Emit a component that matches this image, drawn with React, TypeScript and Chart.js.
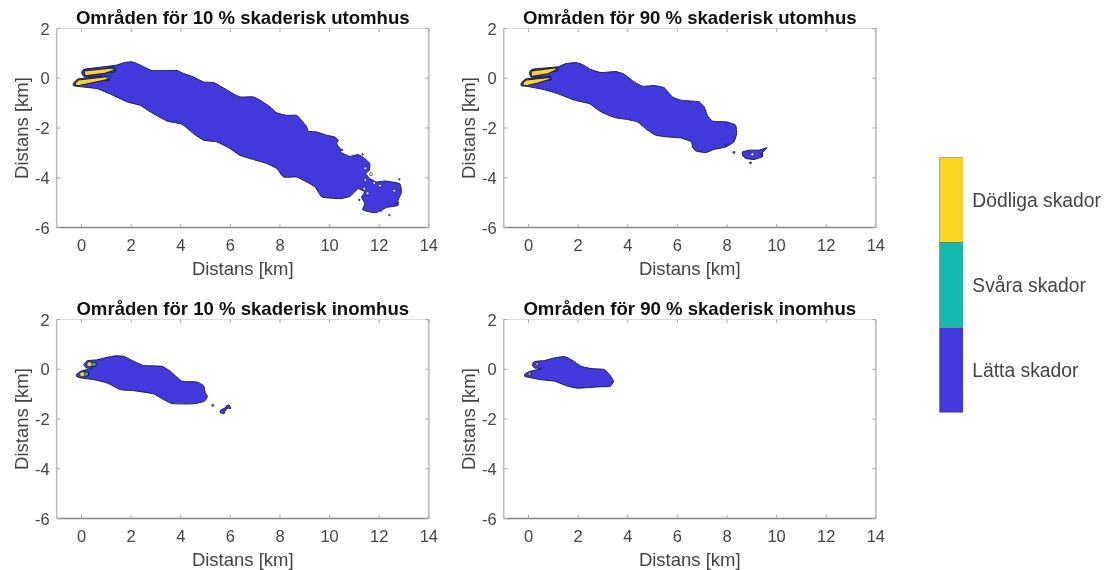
import React, { useEffect, useRef } from "react";
import { Chart, registerables } from "chart.js";

Chart.register(...registerables);

type Pt = [number, number];

const BLUE = "#4239dd";
const TEAL = "#14b8ae";
const YELLOW = "#f8d520";
const EDGE = "#1c1c55";
const FONT = "'Liberation Sans', Arial, sans-serif";

const xTickValues = [0, 2, 4, 6, 8, 10, 12, 14];
const yTickValues = [-6, -4, -2, 0, 2];
const axisLabel = "Distans [km]";
const legendLabels = ["Lätta skador", "Svåra skador", "Dödliga skador"];
const legendValues = [1, 1, 1];

const titles = [
  "Områden för 10 % skaderisk utomhus",
  "Områden för 90 % skaderisk utomhus",
  "Områden för 10 % skaderisk inomhus",
  "Områden för 90 % skaderisk inomhus",
];

// --- 10 % outdoors ---
const out10Light: Pt[] = [
  [-0.33, -0.2], [-0.15, -0.03], [0.85, 0.09], [0.12, 0.05], [0.0, 0.22], [0.1, 0.36],
  [1.37, 0.52], [1.77, 0.64], [2.04, 0.66], [2.24, 0.59], [2.51, 0.46], [2.84, 0.31], [3.31, 0.31],
  [3.85, 0.31], [4.12, 0.19], [4.52, 0.05], [4.92, -0.15], [5.32, -0.17], [5.66, -0.35], [6.06, -0.59],
  [6.39, -0.75], [6.93, -0.75], [7.2, -0.88], [7.6, -1.15], [7.87, -1.39], [8.27, -1.49], [8.67, -1.49],
  [8.87, -1.69], [9.08, -1.96], [9.14, -2.13], [9.48, -2.16], [9.88, -2.29], [10.21, -2.36], [10.35, -2.49],
  [10.28, -2.63], [10.48, -2.9], [10.42, -2.96], [10.82, -3.14], [11.15, -3.07], [11.42, -3.23],
  [11.62, -3.43], [11.6, -3.7], [11.46, -3.83], [11.62, -4.03], [11.89, -4.17], [12.23, -4.13],
  [12.83, -4.24], [12.9, -4.57], [12.76, -4.91], [12.76, -5.11], [12.29, -5.2], [11.89, -5.4], [11.62, -5.38],
  [11.33, -5.28], [11.42, -5.04], [11.29, -4.77], [11.42, -4.57], [11.15, -4.44], [10.82, -4.75],
  [10.42, -4.84], [9.95, -4.81], [9.68, -4.77], [9.41, -4.37], [9.08, -4.17], [8.67, -3.97], [8.14, -3.97],
  [7.87, -3.63], [7.47, -3.43], [6.93, -3.27], [6.39, -3.1], [5.99, -2.83], [5.46, -2.56], [4.92, -2.49],
  [4.52, -2.23], [4.05, -1.85], [3.45, -1.72], [2.77, -1.35], [2.37, -1.09], [1.84, -0.95], [1.17, -0.64],
  [0.63, -0.42], [-0.04, -0.34], [-0.33, -0.3], [-0.33, -0.2],
];
const out10TealA: Pt[] = [[1.1, 0.45], [1.38, 0.42], [1.36, 0.27], [1.1, 0.2], [1.1, 0.45]];
const out10TealB: Pt[] = [[0.95, 0.1], [1.15, 0.08], [1.13, -0.08], [0.95, -0.1], [0.95, 0.1]];
const out10YellowA: Pt[] = [[0.1, 0.3], [1.25, 0.42], [1.32, 0.32], [0.94, 0.2], [0.14, 0.1], [0.1, 0.3]];
const out10YellowB: Pt[] = [[-0.25, -0.17], [-0.13, -0.07], [1.01, 0.06], [1.09, -0.04], [0.34, -0.2], [-0.13, -0.3], [-0.25, -0.28], [-0.25, -0.17]];
const out10Holes: Pt[] = [[11.44, -4.09], [11.44, -3.62], [11.53, -4.62], [11.4, -4.45], [11.8, -4.21], [12.03, -4.32], [12.6, -4.52], [11.67, -3.86]];
const out10Specks: Pt[] = [[11.2, -4.89], [12.41, -5.5], [12.07, -5.32], [11.33, -3.06], [10.5, -2.88], [12.81, -4.06], [12.67, -5.03]];

// --- 90 % outdoors ---
const out90Light: Pt[] = [
  [-0.3, -0.2], [-0.12, -0.03], [0.9, 0.08], [0.12, 0.04], [0.03, 0.22], [0.14, 0.36],
  [1.18, 0.46], [1.51, 0.59], [1.92, 0.63], [2.18, 0.55], [2.52, 0.35], [2.92, 0.23], [3.53, 0.27],
  [3.86, 0.16], [4.26, -0.15], [4.6, -0.32], [5.07, -0.29], [5.47, -0.38], [5.8, -0.75], [6.14, -0.88],
  [6.88, -0.95], [7.08, -1.15], [7.21, -1.49], [7.41, -1.72], [8.02, -1.76], [8.35, -1.89], [8.39, -2.23],
  [8.28, -2.56], [7.95, -2.76], [7.48, -2.86], [7.14, -2.99], [6.74, -2.92], [6.61, -2.76], [6.57, -2.56],
  [6.14, -2.4], [5.6, -2.36], [5.13, -2.29], [4.8, -2.09], [4.4, -1.76], [3.99, -1.66], [3.46, -1.58],
  [2.92, -1.35], [2.45, -1.02], [1.85, -0.88], [1.18, -0.62], [0.64, -0.46], [-0.03, -0.33], [-0.3, -0.3],
  [-0.3, -0.2],
];
const out90Island: Pt[] = [
  [8.62, -2.96], [8.89, -2.89], [9.29, -2.89], [9.62, -2.79], [9.42, -3.0], [9.42, -3.16], [9.09, -3.27],
  [8.75, -3.23], [8.62, -3.09], [8.62, -2.96],
];
const out90TealA: Pt[] = [[1.0, 0.42], [1.2, 0.4], [1.18, 0.3], [1.0, 0.26], [1.0, 0.42]];
const out90TealB: Pt[] = [[0.8, 0.06], [0.93, 0.03], [0.9, -0.07], [0.8, -0.08], [0.8, 0.06]];
const out90YellowA: Pt[] = [[0.11, 0.3], [1.05, 0.42], [1.17, 0.36], [0.78, 0.18], [0.11, 0.07], [0.11, 0.3]];
const out90YellowB: Pt[] = [[-0.22, -0.16], [-0.1, -0.07], [0.84, 0.03], [0.9, -0.03], [0.38, -0.19], [-0.1, -0.3], [-0.22, -0.28], [-0.22, -0.16]];
const out90Holes: Pt[] = [[9.02, -3.06]];
const out90Specks: Pt[] = [[8.28, -2.98], [8.95, -3.4], [7.95, -2.68]];

// --- 10 % indoors ---
const in10Light: Pt[] = [
  [-0.2, -0.21], [-0.04, -0.08], [0.43, 0.04], [0.2, 0.05], [0.09, 0.19], [0.23, 0.34], [0.63, 0.38],
  [1.03, 0.48], [1.37, 0.54], [1.7, 0.52], [2.04, 0.35], [2.51, 0.15], [3.24, 0.12], [3.58, -0.08],
  [4.05, -0.48], [4.65, -0.51], [4.92, -0.66], [4.99, -0.95], [5.08, -1.09], [4.95, -1.29], [4.52, -1.39],
  [3.65, -1.38], [3.31, -1.22], [2.91, -0.99], [2.1, -0.86], [1.57, -0.82], [1.03, -0.55], [0.5, -0.42],
  [-0.04, -0.35], [-0.2, -0.29], [-0.2, -0.21],
];
const in10Island: Pt[] = [
  [5.59, -1.66], [5.72, -1.58], [5.8, -1.55], [5.83, -1.48], [5.95, -1.43], [6.02, -1.58], [5.9, -1.56],
  [5.8, -1.66], [5.74, -1.79], [5.6, -1.74], [5.59, -1.66],
];
const in10TealA: Pt[] = [[0.3, 0.3], [0.6, 0.25], [0.58, 0.12], [0.3, 0.1], [0.3, 0.3]];
const in10TealB: Pt[] = [[0.05, -0.1], [0.3, -0.12], [0.28, -0.26], [0.05, -0.3], [0.05, -0.1]];
const in10Fatal: Pt[] = [[0.32, 0.2], [0.03, -0.2]];
const in10Specks: Pt[] = [[5.29, -1.45]];

// --- 90 % indoors ---
const in90Light: Pt[] = [
  [-0.16, -0.21], [0.0, -0.1], [0.51, 0.03], [0.24, 0.05], [0.15, 0.19], [0.24, 0.31], [0.64, 0.35],
  [1.05, 0.46], [1.45, 0.51], [1.72, 0.39], [2.12, 0.12], [2.52, 0.03], [3.06, -0.01], [3.26, -0.21],
  [3.43, -0.48], [3.3, -0.68], [2.79, -0.71], [1.98, -0.76], [1.58, -0.68], [1.05, -0.48], [0.51, -0.42],
  [-0.03, -0.32], [-0.16, -0.28], [-0.16, -0.21],
];
const in90Fatal: Pt[] = [[0.35, 0.21], [0.04, -0.19]];

const toXY = (pts: Pt[]) => pts.map(([x, y]) => ({ x, y }));

const area = (pts: Pt[], fillColor: string, order: number, tension = 0, borderWidth = 1) => ({
  type: "scatter",
  data: toXY(pts),
  showLine: true,
  fill: "shape",
  backgroundColor: fillColor,
  borderColor: EDGE,
  borderWidth,
  pointRadius: 0,
  tension,
  order,
});

const dots = (pts: Pt[], color: string, radius: number, border: string, order: number) => ({
  type: "scatter",
  data: toXY(pts),
  showLine: false,
  backgroundColor: color,
  borderColor: border,
  borderWidth: 0.7,
  pointRadius: radius,
  order,
});

const SOFT = 0.14;

const panels = [
  [
    area(out10Light, BLUE, 6, SOFT), area(out10TealA, TEAL, 5), area(out10TealB, TEAL, 5),
    area(out10YellowA, YELLOW, 4, 0, 1.2), area(out10YellowB, YELLOW, 4, 0, 1.2),
    dots(out10Holes, "#ffffff", 1.4, EDGE, 3), dots(out10Specks, BLUE, 0.8, EDGE, 3),
  ],
  [
    area(out90Light, BLUE, 6, SOFT), area(out90Island, BLUE, 6), area(out90TealA, TEAL, 5), area(out90TealB, TEAL, 5),
    area(out90YellowA, YELLOW, 4, 0, 1.2), area(out90YellowB, YELLOW, 4, 0, 1.2),
    dots(out90Holes, "#ffffff", 1.5, EDGE, 3), dots(out90Specks, BLUE, 1, EDGE, 3),
  ],
  [
    area(in10Light, BLUE, 6, SOFT), area(in10Island, BLUE, 6), area(in10TealA, TEAL, 5), area(in10TealB, TEAL, 5),
    dots(in10Fatal, YELLOW, 2.5, EDGE, 3), dots(in10Specks, BLUE, 1, EDGE, 3),
  ],
  [
    area(in90Light, BLUE, 6, SOFT),
    dots(in90Fatal, YELLOW, 1.4, EDGE, 3),
  ],
];

const panelLayout = [
  { left: 0, top: 0 },
  { left: 446.7, top: 0 },
  { left: 0, top: 291 },
  { left: 446.7, top: 291 },
];

const PANEL_W = 447;
const PANEL_H = 282;

const framePlugin = {
  id: "frame",
  afterDatasetsDraw(chart: any) {
    const { ctx, chartArea: a, scales } = chart;
    ctx.save();
    ctx.lineWidth = 1;
    ctx.strokeStyle = "#dcdcdc";
    ctx.beginPath();
    ctx.moveTo(a.left, a.top);
    ctx.lineTo(a.right, a.top);
    ctx.stroke();
    ctx.lineWidth = 2;
    ctx.strokeStyle = "#c8c8c8";
    ctx.beginPath();
    ctx.moveTo(a.right, a.top);
    ctx.lineTo(a.right, a.bottom);
    ctx.stroke();
    ctx.lineWidth = 1.6;
    ctx.strokeStyle = "#bcbcbc";
    ctx.beginPath();
    ctx.moveTo(a.left, a.top);
    ctx.lineTo(a.left, a.bottom);
    ctx.stroke();
    ctx.lineWidth = 1.3;
    ctx.strokeStyle = "#858585";
    ctx.beginPath();
    ctx.moveTo(a.left, a.bottom);
    ctx.lineTo(a.right, a.bottom);
    ctx.stroke();
    ctx.lineWidth = 1;
    ctx.strokeStyle = "#a8a8a8";
    ctx.beginPath();
    const t = 3.5;
    for (const v of xTickValues) {
      const px = scales.x.getPixelForValue(v);
      ctx.moveTo(px, a.bottom);
      ctx.lineTo(px, a.bottom - t);
      ctx.moveTo(px, a.top);
      ctx.lineTo(px, a.top + t);
    }
    for (const v of yTickValues) {
      const py = scales.y.getPixelForValue(v);
      ctx.moveTo(a.left, py);
      ctx.lineTo(a.left + t, py);
      ctx.moveTo(a.right, py);
      ctx.lineTo(a.right - t, py);
    }
    ctx.stroke();
    ctx.restore();
  },
};

function Panel({ index }: { index: number }) {
  const ref = useRef<HTMLCanvasElement>(null);
  useEffect(() => {
    const chart = new Chart(ref.current as HTMLCanvasElement, {
      type: "scatter",
      data: { datasets: panels[index] as any },
      plugins: [framePlugin],
      options: {
        animation: false,
        responsive: false,
        devicePixelRatio: 1,
        events: [],
        layout: { padding: { left: 0, right: 17.7, top: 0, bottom: 0 } },
        plugins: {
          legend: { display: false },
          tooltip: { enabled: false },
          title: {
            display: true,
            text: titles[index],
            fullSize: false,
            color: "#111111",
            font: { family: FONT, size: 18.6, weight: "bold", lineHeight: 1.2 },
            padding: { top: 8, bottom: -1.8 },
          },
        },
        scales: {
          x: {
            type: "linear",
            min: -1,
            max: 14,
            grid: { display: false, drawTicks: false },
            border: { display: false },
            afterBuildTicks: (s: any) => {
              s.ticks = xTickValues.map((value) => ({ value }));
            },
            afterFit: (s: any) => {
              s.height = PANEL_H - 227.5;
            },
            ticks: {
              autoSkip: false,
              maxRotation: 0,
              padding: 9,
              color: "#444444",
              font: { family: FONT, size: 16.5 },
            },
            title: {
              display: true,
              text: axisLabel,
              color: "#444444",
              font: { family: FONT, size: 18.5, lineHeight: 1.2 },
              padding: { top: 0, bottom: 1 },
            },
          },
          y: {
            type: "linear",
            min: -6,
            max: 2,
            grid: { display: false, drawTicks: false },
            border: { display: false },
            afterBuildTicks: (s: any) => {
              s.ticks = yTickValues.map((value) => ({ value }));
            },
            afterFit: (s: any) => {
              s.width = 56.7;
            },
            ticks: {
              autoSkip: false,
              padding: 7,
              labelOffset: 1.5,
              color: "#444444",
              font: { family: FONT, size: 16.5 },
            },
            title: {
              display: true,
              text: axisLabel,
              color: "#444444",
              font: { family: FONT, size: 18.5, lineHeight: 1.2 },
              padding: { top: 11.5, bottom: 0 },
            },
          },
        },
      } as any,
    });
    return () => chart.destroy();
  }, [index]);
  const pos = panelLayout[index];
  return (
    <canvas
      ref={ref}
      width={PANEL_W}
      height={PANEL_H}
      style={{
        position: "absolute",
        left: pos.left,
        top: pos.top,
        width: PANEL_W,
        height: PANEL_H,
        filter: "blur(0.55px)",
      }}
    />
  );
}

function LegendBar() {
  const ref = useRef<HTMLCanvasElement>(null);
  useEffect(() => {
    const colors = [BLUE, TEAL, YELLOW];
    const chart = new Chart(ref.current as HTMLCanvasElement, {
      type: "bar",
      data: {
        labels: [""],
        datasets: legendLabels.map((label, i) => ({
          label,
          data: [legendValues[i]],
          backgroundColor: colors[i],
          borderColor: "#6f6f7a",
          borderWidth: 0.6,
          barPercentage: 1,
          categoryPercentage: 1,
          stack: "bar",
        })),
      },
      options: {
        animation: false,
        responsive: false,
        devicePixelRatio: 1,
        events: [],
        layout: { padding: { left: 9.3, right: 0, top: 7.3, bottom: 7.3 } },
        plugins: { legend: { display: false }, tooltip: { enabled: false } },
        scales: {
          x: { display: false, stacked: true },
          y: {
            type: "linear",
            position: "right",
            stacked: true,
            min: 0,
            max: 3,
            grid: { display: false, drawTicks: false },
            border: { display: false },
            afterBuildTicks: (s: any) => {
              s.ticks = legendValues.map((_, i) => ({ value: i + 0.5 }));
            },
            afterFit: (s: any) => {
              s.width = 142.7;
              s.paddingTop = 0;
              s.paddingBottom = 0;
            },
            ticks: {
              autoSkip: false,
              padding: 9,
              labelOffset: 2,
              color: "#444444",
              font: { family: FONT, size: 19.3 },
              callback: (value: number) => legendLabels[Math.floor(value)],
            },
          },
        },
      } as any,
    });
    return () => chart.destroy();
  }, []);
  return (
    <canvas
      ref={ref}
      width={176}
      height={270}
      style={{
        position: "absolute",
        left: 930,
        top: 150,
        width: 176,
        height: 270,
        filter: "blur(0.5px)",
      }}
    />
  );
}

export default function App() {
  return (
    <div style={{ position: "fixed", inset: 0, overflow: "hidden", background: "#ffffff" }}>
      {titles.map((_, i) => (
        <Panel key={i} index={i} />
      ))}
      <LegendBar />
    </div>
  );
}
